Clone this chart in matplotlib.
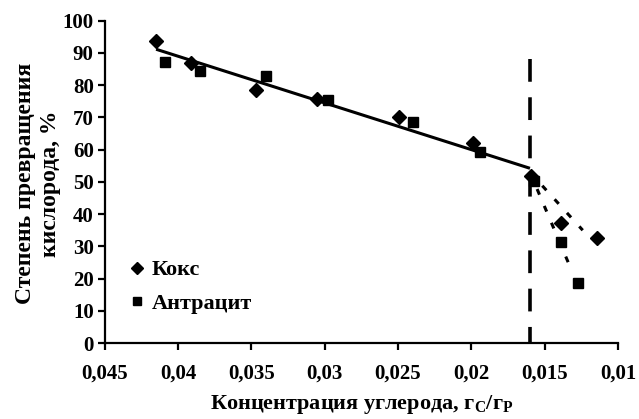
import matplotlib
matplotlib.use("Agg")
import matplotlib.pyplot as plt
from matplotlib.ticker import FuncFormatter, MultipleLocator

plt.rcParams['font.family'] = ['Liberation Serif', 'DejaVu Serif']
plt.rcParams['font.weight'] = 'bold'
plt.rcParams['mathtext.fontset'] = 'custom'
plt.rcParams['mathtext.rm'] = 'Liberation Serif:bold'
plt.rcParams['mathtext.bf'] = 'Liberation Serif:bold'
plt.rcParams['mathtext.it'] = 'Liberation Serif:bold'

# Data
koks_x = [0.0415, 0.0391, 0.0347, 0.0305, 0.0249, 0.0199, 0.0159, 0.0139, 0.0114]
koks_y = [93.6, 86.8, 78.5, 75.8, 70.0, 62.0, 51.9, 37.2, 32.7]
antr_x = [0.0409, 0.0385, 0.0340, 0.0298, 0.0240, 0.0194, 0.0157, 0.0139, 0.0127]
antr_y = [87.1, 84.3, 82.8, 75.4, 68.5, 59.4, 50.3, 31.5, 18.6]

trend_x = [0.0415, 0.0160]
trend_y = [91.1, 54.2]
koks_tail_x = [0.0160, 0.0124]
koks_tail_y = [53.0, 35.0]
antr_tail_x = [0.0160, 0.0132]
antr_tail_y = [53.0, 23.0]
break_x = 0.0160
break_y = [88, 0]

xticks = [0.045, 0.04, 0.035, 0.03, 0.025, 0.02, 0.015, 0.01]
series_names = ['Кокс', 'Антрацит']

fig = plt.figure(figsize=(6.39, 4.19), dpi=100)
ax = fig.add_axes([0.164, 0.181, 0.803, 0.770])

ax.plot(trend_x, trend_y, color='black', lw=2.2, solid_capstyle='butt', zorder=2)
ax.plot(koks_tail_x, koks_tail_y, color='black', lw=2.2, dashes=(2, 4), zorder=2)
ax.plot(antr_tail_x, antr_tail_y, color='black', lw=2.2, dashes=(2, 4), zorder=2)
ax.plot([break_x, break_x], break_y, color='black', lw=2.6, dashes=(6.3, 4.3), zorder=2)

ax.plot(koks_x, koks_y, linestyle='none', marker='D', ms=7.5, color='black',
        label=series_names[0], zorder=3)
ax.plot(antr_x, antr_y, linestyle='none', marker='s', ms=7.5, color='black',
        label=series_names[1], zorder=3)

ax.set_xlim(0.045, 0.01)
ax.set_ylim(0, 100)
ax.set_xticks(xticks)
ax.yaxis.set_major_locator(MultipleLocator(10))
ax.xaxis.set_major_formatter(FuncFormatter(lambda v, p: ('%g' % round(v, 4)).replace('.', ',')))

for s in ['top', 'right']:
    ax.spines[s].set_visible(False)
for s in ['left', 'bottom']:
    ax.spines[s].set_linewidth(1.6)
ax.tick_params(axis='both', direction='out', length=5, width=1.6, labelsize=15)
ax.tick_params(axis='x', pad=10)
ax.tick_params(axis='y', pad=3)

ax.set_xlabel('Концентрация углерода, г$_\\mathrm{C}$/г$_\\mathrm{P}$', fontsize=16,
              fontweight='bold')
ax.xaxis.set_label_coords(0.5, -0.155)
ax.set_ylabel('Степень превращения\nкислорода, %', fontsize=17, fontweight='bold',
              linespacing=1.25)
ax.yaxis.set_label_coords(-0.086, 0.495)

leg = ax.legend(loc='lower left', bbox_to_anchor=(0.035, 0.062), frameon=False,
                fontsize=16, handlelength=0.5, handletextpad=0.4, labelspacing=0.6,
                borderaxespad=0, markerscale=0.85)

fig.savefig('out.png', dpi=100)
